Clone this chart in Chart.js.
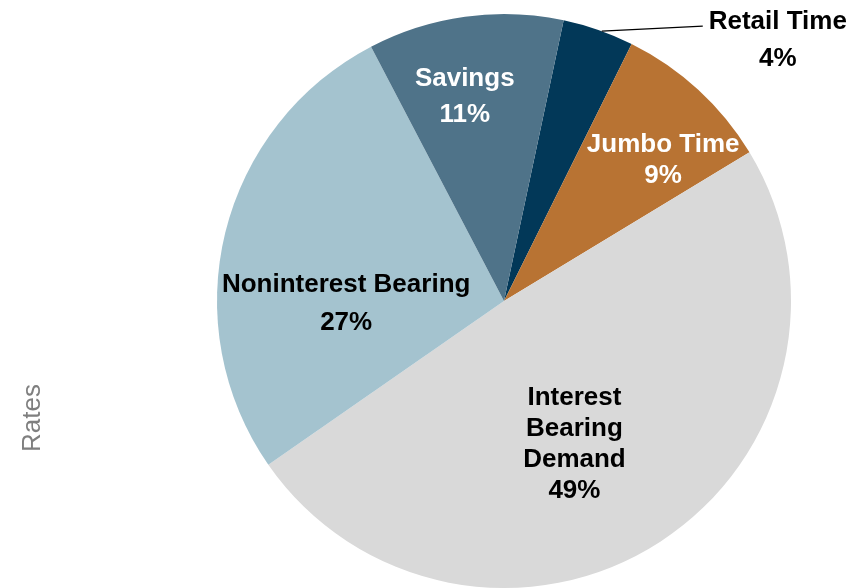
<!DOCTYPE html>
<html>
<head>
<meta charset="utf-8">
<script src="https://cdn.jsdelivr.net/npm/chart.js@4/dist/chart.umd.min.js"></script>
<style>
  html, body { margin: 0; padding: 0; background: #fff; }
  #wrap { width: 865px; height: 588px; position: relative; }
</style>
</head>
<body>
<div id="wrap"><canvas id="c"></canvas></div>
<script>
// deposit mix, clockwise from just right of 12 o'clock
const categories = ['Retail Time', 'Jumbo Time', 'Interest Bearing Demand', 'Noninterest Bearing', 'Savings'];
const shares = [4, 9, 49, 27, 11];
const sliceColors = ['#023858', '#B87333', '#D9D9D9', '#A4C3CF', '#4F7389'];
const labelLines = [
  ['Retail Time'],
  ['Jumbo Time'],
  ['Interest', 'Bearing', 'Demand'],
  ['Noninterest Bearing'],
  ['Savings'],
];
const labelColors = ['#000', '#fff', '#000', '#000', '#fff'];

// label placement: fraction of radius, angle nudge (deg), line gap
const LABEL_POS = [
  null, // drawn outside with a leader line
  { r: 0.745, nudge: 5.5, gap: 31 },
  { r: 0.55, nudge: 6.5, gap: 31 },
  { r: 0.55, nudge: -14, gap: 38 },
  { r: 0.73, nudge: -3, gap: 36 },
];

const FONT = 'bold 26px "Liberation Sans", Arial, sans-serif';

const labelPlugin = {
  id: 'sliceLabels',
  afterDatasetsDraw(chart) {
    const ctx = chart.ctx;
    const arcs = chart.getDatasetMeta(0).data;
    ctx.save();
    ctx.font = FONT;
    ctx.textAlign = 'center';
    ctx.textBaseline = 'middle';
    arcs.forEach((arc, i) => {
      const lines = labelLines[i].concat([shares[i] + '%']);
      ctx.fillStyle = labelColors[i];
      const p = arc.getProps(['x', 'y', 'startAngle', 'endAngle', 'outerRadius']);
      if (!LABEL_POS[i]) {
        // outside label with leader
        const a = p.startAngle + (p.endAngle - p.startAngle) * 0.55;
        const sx = p.x + Math.cos(a) * p.outerRadius;
        const sy = p.y + Math.sin(a) * p.outerRadius;
        ctx.strokeStyle = '#000';
        ctx.lineWidth = 1.2;
        ctx.beginPath();
        ctx.moveTo(sx, sy);
        ctx.lineTo(sx + 101, sy - 5);
        ctx.stroke();
        const cx = sx + 176, top = sy - 9;
        lines.forEach((t, k) => ctx.fillText(t, cx, top + k * 37));
        return;
      }
      const pos = LABEL_POS[i];
      const a = (p.startAngle + p.endAngle) / 2 + pos.nudge * Math.PI / 180;
      const cx = p.x + Math.cos(a) * p.outerRadius * pos.r;
      const cy = p.y + Math.sin(a) * p.outerRadius * pos.r + 2;
      const y0 = cy - (lines.length - 1) * pos.gap / 2;
      lines.forEach((t, k) => ctx.fillText(t, cx, y0 + k * pos.gap));
    });
    ctx.restore();
  },
};

const sideTitle = {
  id: 'sideTitle',
  afterDraw(chart) {
    const ctx = chart.ctx;
    ctx.save();
    ctx.translate(33, 418);
    ctx.rotate(-Math.PI / 2);
    ctx.font = '26px "Liberation Sans", Arial, sans-serif';
    ctx.fillStyle = '#7F7F7F';
    ctx.textAlign = 'center';
    ctx.textBaseline = 'middle';
    ctx.fillText('Rates', 0, 0);
    ctx.restore();
  },
};

new Chart(document.getElementById('c'), {
  type: 'pie',
  data: {
    labels: categories,
    datasets: [{
      data: shares,
      backgroundColor: sliceColors,
      borderWidth: 0,
    }],
  },
  options: {
    responsive: true,
    maintainAspectRatio: false,
    animation: false,
    rotation: 12,
    layout: { padding: { top: 14, bottom: 0, left: 143, right: 0 } },
    plugins: {
      legend: { display: false },
      tooltip: { enabled: false },
    },
  },
  plugins: [labelPlugin, sideTitle],
});
</script>
</body>
</html>
